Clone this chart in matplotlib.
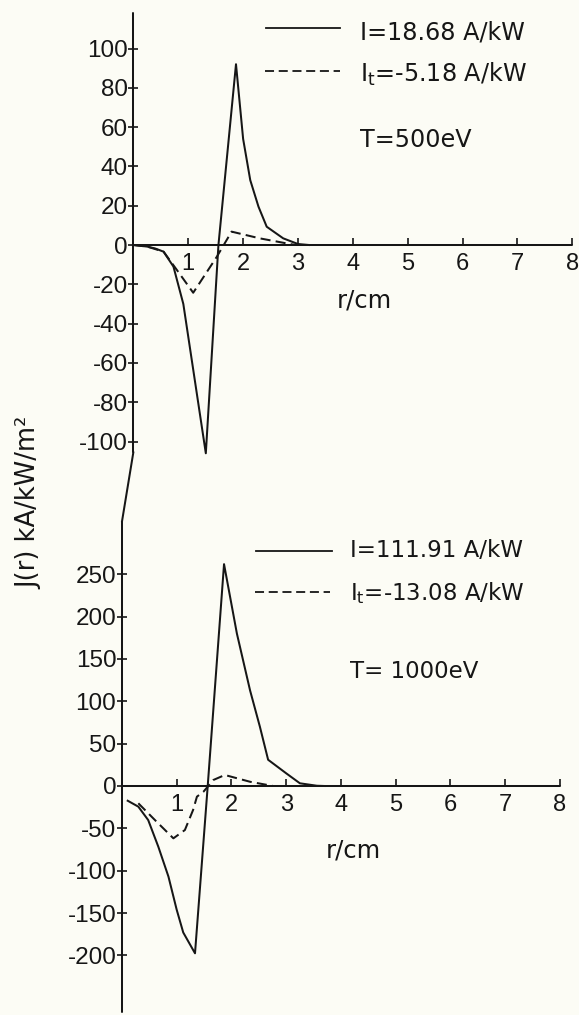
import matplotlib
matplotlib.use("Agg")
import matplotlib.pyplot as plt
from matplotlib.lines import Line2D

plt.rcParams['axes.unicode_minus'] = False

# ---------------- data ----------------
# T = 500 eV
r_500_total = [0.0, 0.25, 0.40, 0.55, 0.73, 0.91, 1.32, 1.55, 1.87, 2.00, 2.13, 2.28, 2.43, 2.73, 3.00, 3.20]
J_500_total = [0.0, -0.8, -1.8, -3.4, -11.0, -30.0, -106.0, 0.0, 92.0, 54.0, 33.0, 19.5, 9.3, 3.4, 0.5, 0.0]
r_500_t = [0.0, 0.25, 0.55, 0.80, 1.09, 1.52, 1.79, 2.30, 2.95]
J_500_t = [0.0, -0.8, -3.4, -13.0, -24.3, -6.0, 6.8, 3.4, 0.0]

# T = 1000 eV
r_1000_total = [0.106, 0.30, 0.48, 0.665, 0.85, 1.00, 1.12, 1.335, 1.567, 1.865, 2.10, 2.34, 2.52, 2.67, 3.00, 3.25, 3.56, 3.70]
J_1000_total = [-17.4, -24.4, -40.2, -71.7, -107.0, -146.0, -173.0, -197.6, 0.0, 262.0, 180.0, 113.0, 70.0, 31.0, 15.0, 3.2, 0.3, 0.0]
r_1000_t = [0.30, 0.60, 0.94, 1.15, 1.30, 1.37, 1.49, 1.67, 1.88, 2.34, 2.76]
J_1000_t = [-20.4, -40.0, -61.8, -52.0, -28.3, -12.6, -6.7, 7.1, 13.0, 5.0, 0.0]

x_ticks = [1, 2, 3, 4, 5, 6, 7, 8]
y_ticks_500 = [-100, -80, -60, -40, -20, 0, 20, 40, 60, 80, 100]
y_ticks_1000 = [-200, -150, -100, -50, 0, 50, 100, 150, 200, 250]

label_total_500 = "I=18.68 A/kW"
label_t_500 = r"I$_{\mathrm{t}}$=-5.18 A/kW"
label_T_500 = "T=500eV"
label_total_1000 = "I=111.91 A/kW"
label_t_1000 = r"I$_{\mathrm{t}}$=-13.08 A/kW"
label_T_1000 = "T= 1000eV"
x_label = "r/cm"
y_label = "J(r) kA/kW/m²"

# ---------------- layout ----------------
W, H = 579, 1015
BG = '#fcfcf5'
INK = '#161616'
LW = 1.45
DASH = (0, (5, 2.6))
TEXT_FONT = 'DejaVu Sans'
TICK_FONT = 'Liberation Sans'


def fx(px):
    return px / W


def fy(py):
    return 1 - py / H


fig = plt.figure(figsize=(W / 100, H / 100), dpi=100, facecolor=BG)


def make_axes(left, right, top, bottom, ylim, yticks, spine_bounds):
    ax = fig.add_axes([fx(left), fy(bottom), (right - left) / W, (bottom - top) / H])
    ax.set_facecolor('none')
    ax.set_xlim(0, 8)
    ax.set_ylim(*ylim)
    for s in ['top', 'right']:
        ax.spines[s].set_visible(False)
    ax.spines['bottom'].set_position(('data', 0))
    ax.spines['left'].set_bounds(*spine_bounds)
    for s in ['bottom', 'left']:
        ax.spines[s].set_linewidth(LW)
        ax.spines[s].set_color(INK)
        ax.spines[s].set_capstyle('round')
    ax.set_xticks(x_ticks)
    ax.set_yticks(yticks)
    ax.set_yticklabels([str(v) for v in yticks])
    ax.tick_params(axis='x', direction='in', length=5, width=1.2, pad=6,
                   labelsize=17, colors=INK)
    ax.tick_params(axis='y', direction='inout', length=7, width=1.2, pad=0.5,
                   labelsize=17.5, colors=INK)
    for lab in ax.get_xticklabels() + ax.get_yticklabels():
        lab.set_fontfamily(TICK_FONT)
    return ax


# top panel: x=0 at 133.4 px, x=8 at 572.3 px; y=0 at 245 px, 1.965 px/unit
Y0_TOP, S_TOP = 245, 1.965
ylim_top = ((Y0_TOP - 470) / S_TOP, (Y0_TOP - 13) / S_TOP)
ax1 = make_axes(133.4, 572.3, 13, 470, ylim_top, y_ticks_500,
                ((Y0_TOP - 452) / S_TOP, ylim_top[1]))
ax1.plot(r_500_total, J_500_total, color=INK, lw=LW)
ax1.plot(r_500_t, J_500_t, color=INK, lw=LW, linestyle=DASH)

# bottom panel: x=0 at 121.9 px, x=8 at 560 px; y=0 at 786 px, 0.8467 px/unit
Y0_BOT, S_BOT = 786, 0.8467
ylim_bot = ((Y0_BOT - 1012) / S_BOT, (Y0_BOT - 505) / S_BOT)
ax2 = make_axes(121.9, 560.0, 505, 1012, ylim_bot, y_ticks_1000,
                (ylim_bot[0], (Y0_BOT - 522) / S_BOT))
ax2.plot(r_1000_total, J_1000_total, color=INK, lw=LW)
ax2.plot(r_1000_t, J_1000_t, color=INK, lw=LW, linestyle=DASH)

# connector of the shared vertical axis line
fig.add_artist(Line2D([fx(133.4), fx(121.9)], [fy(452), fy(522)],
                      color=INK, lw=LW, solid_capstyle='round',
                      transform=fig.transFigure))


# legends drawn as line samples + text
def legend_line(x0, x1, y, dashed=False):
    fig.add_artist(Line2D([fx(x0), fx(x1)], [fy(y), fy(y)], color=INK, lw=1.3,
                          linestyle=DASH if dashed else '-',
                          transform=fig.transFigure))


def ftext(x, y, s, **kw):
    kw.setdefault('fontsize', 16.5)
    kw.setdefault('family', TEXT_FONT)
    kw.setdefault('color', INK)
    fig.text(fx(x), fy(y), s, **kw)


legend_line(266, 340, 28)
ftext(360, 39.5, label_total_500, ha='left', va='baseline', fontsize=17.2)
legend_line(265, 340, 71, dashed=True)
ftext(360, 82, label_t_500, ha='left', va='baseline', fontsize=17.2)
ftext(360, 147, label_T_500, ha='left', va='baseline', fontsize=17.2)

legend_line(256, 332, 551)
ftext(350, 557, label_total_1000, ha='left', va='baseline')
legend_line(255, 330, 592, dashed=True)
ftext(350, 600, label_t_1000, ha='left', va='baseline')
ftext(350, 678, label_T_1000, ha='left', va='baseline')

ftext(364, 308, x_label, ha='center', va='baseline', fontsize=17.5)
ftext(353, 857, x_label, ha='center', va='baseline', fontsize=17.5)

ftext(29, 503, y_label, ha='center', va='center', rotation=90, fontsize=18.5)

fig.savefig('out.png', dpi=100, facecolor=BG)
